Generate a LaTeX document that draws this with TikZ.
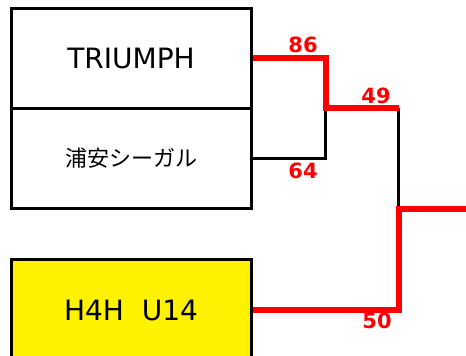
\documentclass[tikz,border=0pt]{standalone}
\usepackage{fontspec}
\setmainfont{DejaVu Sans}
\newfontfamily\jpfont{Noto Sans CJK JP}
\tikzset{
  team/.style={draw, line width=3pt, minimum width=240pt, minimum height=100pt, inner sep=0pt, font=\fontsize{28}{32}\selectfont},
  score/.style={text=red, inner sep=0pt, font=\bfseries\fontsize{21}{24}\selectfont},
  win/.style={draw=red, line width=6pt},
  lose/.style={draw=black, line width=3pt}
}
\begin{document}
\begin{tikzpicture}[x=1pt,y=1pt]
  \useasboundingbox (0,0) rectangle (466,356);
  \node[team] (triumph) at (131,297.5) {TRIUMPH};
  \node[team, font=\jpfont\fontsize{22}{26}\selectfont] (urayasu) at (131,197.5) {浦安シーガル};
  \node[team, fill=yellow] (h4h) at (131,46) {H4H\ \ U14};

  \coordinate (semi1) at (325.5,247.5);
  \coordinate (semi2) at (398.5,247.5);
  \coordinate (final) at (398.5,147);
  \coordinate (champ) at (466,147);

  \node[score] (s86) at (303,311) {86};
  \node[score] (s64) at (303,185.5) {64};
  \node[score] (s49) at (376,260.5) {49};
  \node[score] (s50) at (377,35) {50};

  \draw[lose] (urayasu.east) -| (semi1);
  \draw[lose] (semi2) -- (final);
  \draw[win] (triumph.east) -| (semi1) -- (semi2);
  \draw[win] (h4h.east) -| (final) -- (champ);
\end{tikzpicture}
\end{document}
